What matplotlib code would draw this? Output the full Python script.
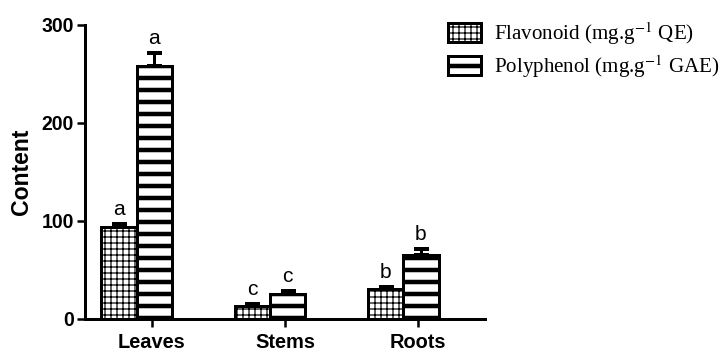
import matplotlib
matplotlib.use('Agg')
import numpy as np
from matplotlib import pyplot as plt

# mean content per organ, with upper error and letter group
organs = ['Leaves', 'Stems', 'Roots']
flavonoid = [94, 13, 30]
flavonoid_err = [3, 2, 2]
flavonoid_grp = ['a', 'c', 'b']
polyphenol = [258, 25, 65]
polyphenol_err = [13, 3, 6]
polyphenol_grp = ['a', 'c', 'b']

plt.rcParams['font.family'] = 'Liberation Sans'
plt.rcParams['mathtext.fontset'] = 'stix'

DPI = 72
fig = plt.figure(figsize=(724 / DPI, 352 / DPI), dpi=DPI)
ax = fig.add_axes([85 / 724, 1 - 318.5 / 352, 400 / 724, 293.5 / 352])

x = np.arange(len(organs))
w = 0.265
shift = 0.02
grid_lw = 1.2
stripe_lw = 4.5

plt.rcParams['hatch.linewidth'] = grid_lw
b1 = ax.bar(x + shift - w, flavonoid, w, color='white', edgecolor='black',
            linewidth=3, hatch='++', label=r'Flavonoid (mg.g$^{-1}$ QE)', zorder=3)
plt.rcParams['hatch.linewidth'] = stripe_lw
b2 = ax.bar(x + shift, polyphenol, w, color='white', edgecolor='black',
            linewidth=3, hatch='-', label=r'Polyphenol (mg.g$^{-1}$ GAE)', zorder=3)
for p in b1:
    p.set_hatch_linewidth(grid_lw)
for p in b2:
    p.set_hatch_linewidth(stripe_lw)

# upward error bars only
for xs, vals, errs in [(x + shift - w, flavonoid, flavonoid_err),
                       (x + shift, polyphenol, polyphenol_err)]:
    ax.errorbar(xs, vals, yerr=[np.zeros(len(errs)), errs], fmt='none',
                ecolor='black', elinewidth=3, capsize=7.5, capthick=4, zorder=2)

# significance letters
for xs, vals, errs, grp in [(x + shift - w, flavonoid, flavonoid_err, flavonoid_grp),
                            (x + shift, polyphenol, polyphenol_err, polyphenol_grp)]:
    for xi, v, e, g in zip(xs, vals, errs, grp):
        ax.annotate(g, (xi, v + e), xytext=(0, 5), textcoords='offset points',
                    ha='center', va='bottom', fontsize=21)

ax.set_xlim(-0.5, 2.5)
ax.set_ylim(0, 300)
ax.set_yticks([0, 100, 200, 300])
ax.set_xticks(x)
ax.set_xticklabels(organs, fontsize=20, fontweight='bold')
for lab in ax.get_yticklabels():
    lab.set_fontsize(19.5)
    lab.set_fontweight('bold')
ax.tick_params(axis='y', length=8, width=2.5, pad=3)
ax.tick_params(axis='x', length=8, width=2.5, pad=6)
ax.spines['top'].set_visible(False)
ax.spines['right'].set_visible(False)
ax.spines['left'].set_linewidth(3)
ax.spines['bottom'].set_linewidth(3)
ax.set_ylabel('Content', fontsize=23, fontweight='bold')
ax.yaxis.set_label_coords(-0.13, 0.5)

leg = fig.legend(handles=[b1, b2], loc='upper left',
                 bbox_to_anchor=(448 / 724, 1 - 20 / 352), frameon=False,
                 prop={'family': 'Liberation Serif', 'size': 21},
                 handlelength=1.55, handleheight=1.05, handletextpad=0.65,
                 labelspacing=0.3, borderpad=0, borderaxespad=0)
for p, lw in zip(leg.get_patches(), [grid_lw, stripe_lw]):
    p.set_hatch_linewidth(lw)

plt.savefig('out.png', dpi=DPI)
plt.close(fig)
